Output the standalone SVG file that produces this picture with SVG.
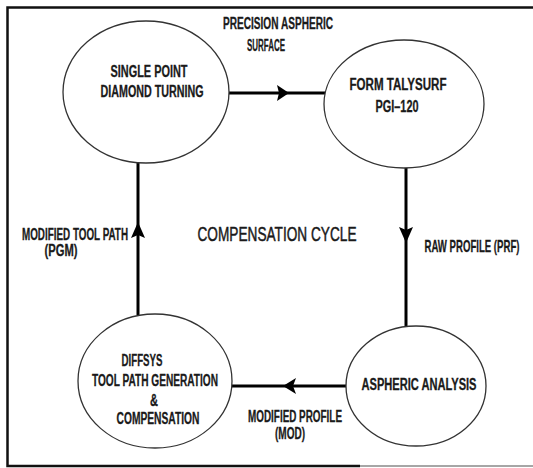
<svg xmlns="http://www.w3.org/2000/svg" width="533" height="468" viewBox="0 0 533 468">
<style>
.node{fill:#fff;stroke:#333;stroke-width:1.3}
.t{font-family:"Liberation Sans",Arial,sans-serif;font-weight:bold;font-size:16px;fill:#1a1a1a;stroke:#1a1a1a;stroke-width:0.3;text-anchor:middle}
.big{font-size:21px;font-weight:normal;stroke-width:0.5}
.con{stroke:#000;stroke-width:3;fill:none}
.ah{fill:#000}
</style>
<rect width="533" height="468" fill="#fff"/>
<g id="frame">
<path d="M533,7.5 H7.5 V466 H360" fill="none" stroke="#111" stroke-width="2.5"/>
<path d="M360,466 H533" fill="none" stroke="#888" stroke-width="1.5"/>
</g>
<g id="connectors">
<line class="con" x1="229" y1="93" x2="325" y2="93"/>
<polygon class="ah" points="289,93 277,85 279,93 277,101"/>
<line class="con" x1="406" y1="168" x2="406" y2="327"/>
<polygon class="ah" points="406,243 399,227 406,230 413,227"/>
<line class="con" x1="138" y1="163" x2="138" y2="315"/>
<polygon class="ah" points="138,222 131,238 138,235 145,238"/>
<line class="con" x1="232" y1="386" x2="347" y2="386"/>
<polygon class="ah" points="283,386 296,378 293,386 296,394"/>
</g>
<g id="n1">
<ellipse class="node" cx="146" cy="92" rx="83" ry="71"/>
<text class="t" x="149" y="77" textLength="77" lengthAdjust="spacingAndGlyphs">SINGLE POINT</text>
<text class="t" x="152" y="97" textLength="103" lengthAdjust="spacingAndGlyphs">DIAMOND TURNING</text>
</g>
<g id="n2">
<ellipse class="node" cx="404" cy="104" rx="80" ry="64"/>
<text class="t" x="398" y="90" textLength="97" lengthAdjust="spacingAndGlyphs">FORM TALYSURF</text>
<text class="t" x="397" y="112" textLength="43" lengthAdjust="spacingAndGlyphs">PGI–120</text>
</g>
<g id="n3">
<ellipse class="node" cx="416" cy="386" rx="70" ry="60"/>
<text class="t" x="419" y="390" textLength="115" lengthAdjust="spacingAndGlyphs">ASPHERIC ANALYSIS</text>
</g>
<g id="n4">
<ellipse class="node" cx="155" cy="381" rx="77" ry="67"/>
<text class="t" x="142" y="366" textLength="41" lengthAdjust="spacingAndGlyphs">DIFFSYS</text>
<text class="t" x="155" y="386" textLength="126" lengthAdjust="spacingAndGlyphs">TOOL PATH GENERATION</text>
<text class="t" x="154" y="406" textLength="8" lengthAdjust="spacingAndGlyphs">&amp;</text>
<text class="t" x="158" y="424" textLength="83" lengthAdjust="spacingAndGlyphs">COMPENSATION</text>
</g>
<g id="labels">
<text class="t" x="278" y="29" textLength="110" lengthAdjust="spacingAndGlyphs">PRECISION ASPHERIC</text>
<text class="t" x="266" y="51" textLength="38" lengthAdjust="spacingAndGlyphs">SURFACE</text>
<text class="t" x="75" y="240" textLength="106" lengthAdjust="spacingAndGlyphs">MODIFIED TOOL PATH</text>
<text class="t" x="61" y="256" textLength="33" lengthAdjust="spacingAndGlyphs">(PGM)</text>
<text class="t big" x="277" y="241" textLength="159" lengthAdjust="spacingAndGlyphs">COMPENSATION CYCLE</text>
<text class="t" transform="translate(472,252) scale(0.597,1)" x="0" y="0" textLength="159" lengthAdjust="spacingAndGlyphs">RAW PROFILE (PRF)</text>
<text class="t" x="295" y="422" textLength="94" lengthAdjust="spacingAndGlyphs">MODIFIED PROFILE</text>
<text class="t" x="290" y="439" textLength="30" lengthAdjust="spacingAndGlyphs">(MOD)</text>
</g>
</svg>
